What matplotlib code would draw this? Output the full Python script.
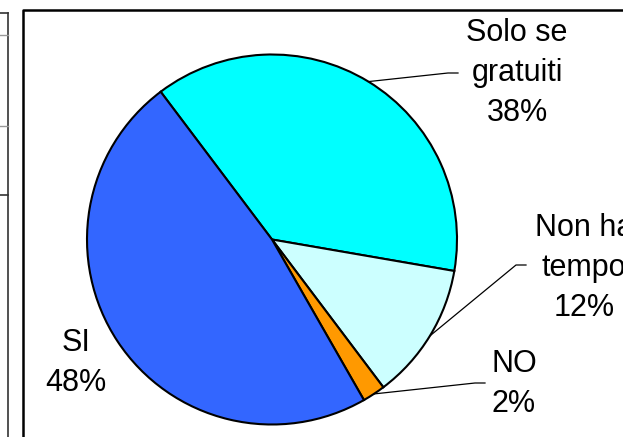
import numpy as np
import matplotlib.pyplot as plt

# survey answers
categories = ["Solo se\ngratuiti", "Non ha\ntempo", "NO", "SI"]
percent = [38, 12, 2, 48]
colors = ["#00FFFF", "#CCFFFF", "#FF9900", "#3366FF"]

W, H = 623, 437
fig = plt.figure(figsize=(W / 100, H / 100), dpi=100)
ax = fig.add_axes([0, 0, 1, 1])

cx, cy, r = 272, H - 239.5, 185
wedges, _ = ax.pie(percent, colors=colors, startangle=127, counterclock=False,
                   center=(cx, cy), radius=r,
                   wedgeprops=dict(edgecolor="black", linewidth=1.5))

ax.set_xlim(0, W)
ax.set_ylim(0, H)
ax.set_aspect("auto")
ax.axis("off")

# label anchors (pixels from top-left) and leader end points
label_pos = [(517, 73), (584, 268), (514, 384), (76, 363)]
leader_end = [(458, 73), (526, 265), (485, 383), None]

for w, name, pct, (lx, ly), end in zip(wedges, categories, percent, label_pos, leader_end):
    ax.text(lx, H - ly, f"{name}\n{pct}%", ha="center", va="center",
            fontsize=22, family="Liberation Sans", linespacing=1.45)
    if end is None:
        continue
    mid = np.deg2rad((w.theta1 + w.theta2) / 2)
    sx, sy = cx + r * np.cos(mid), cy + r * np.sin(mid)
    ex, ey = end[0], H - end[1]
    ax.plot([sx, ex - 10, ex], [sy, ey, ey], color="black", lw=0.9)

# chart frame and the edge of the neighbouring table
ax.plot([22.5, 22.5, W + 5], [-5, H - 10, H - 10], color="black", lw=1.8)
ax.plot([8, 8], [-5, H - 13], color="#333333", lw=1.2)
ax.plot([0, 8], [H - 13, H - 13], color="#333333", lw=1.2)
ax.plot([0, 8], [H - 195, H - 195], color="#333333", lw=1.2)
for y in (35, 126):
    ax.plot([0, 8], [H - y, H - y], color="#999999", lw=1.0)

fig.savefig("out.png", dpi=100)
